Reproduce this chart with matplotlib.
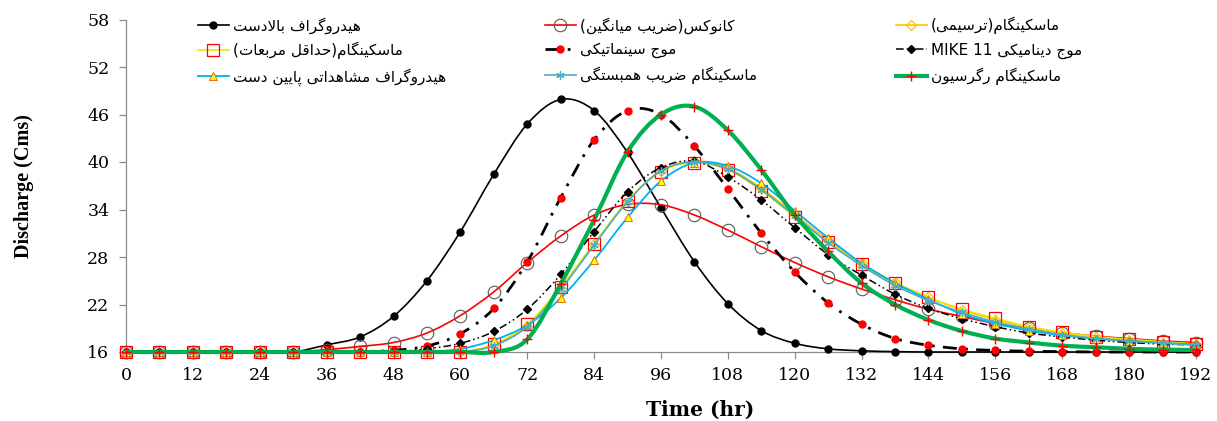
import re
import matplotlib
matplotlib.use("Agg")
import matplotlib.pyplot as plt
import numpy as np
from matplotlib.path import Path
from matplotlib.patches import PathPatch
from matplotlib.lines import Line2D

# ---- data ----
hours = [0, 6, 12, 18, 24, 30, 36, 42, 48, 54, 60, 66, 72, 78, 84, 90, 96,
         102, 108, 114, 120, 126, 132, 138, 144, 150, 156, 162, 168, 174,
         180, 186, 192]

upstream = [16, 16, 16, 16, 16, 16, 16.9, 17.9, 20.5, 25.0, 31.2, 38.45, 44.8,
            47.9, 46.5, 41.2, 34.2, 27.4, 22.1, 18.7, 17.1, 16.4, 16.15, 16.05,
            16, 16, 16, 16, 16, 16, 16, 16, 16]
cunge = [16, 16, 16, 16, 16, 16, 16.3, 16.7, 17.2, 18.4, 20.6, 23.6, 27.3,
         30.65, 33.3, 34.65, 34.6, 33.3, 31.4, 29.3, 27.3, 25.5, 23.95, 22.6,
         21.4, 20.5, 19.6, 19.0, 18.45, 18.0, 17.7, 17.4, 17.2]
musk_graphical = [16, 16, 16, 16, 16, 16, 16, 16, 16, 16, 16, 16.9, 19.3,
                  24.0, 29.6, 35.0, 38.9, 40.1, 39.2, 36.7, 33.4, 30.1, 27.2,
                  24.8, 22.9, 21.3, 20.1, 19.1, 18.4, 17.9, 17.5, 17.2, 17.0]
musk_lsq = [16, 16, 16, 16, 16, 16, 16, 16, 16, 16, 16, 17.0, 19.5, 24.2,
            29.7, 35.1, 38.8, 39.9, 39.0, 36.4, 33.1, 29.9, 27.1, 24.7, 22.9,
            21.4, 20.25, 19.2, 18.5, 17.95, 17.6, 17.3, 17.0]
kinematic = [16, 16, 16, 16, 16, 16, 16, 16.05, 16.2, 16.75, 18.3, 21.5, 27.4,
             35.5, 42.8, 46.5, 46.0, 42.0, 36.6, 31.0, 26.1, 22.2, 19.5, 17.7,
             16.85, 16.4, 16.2, 16.1, 16.05, 16, 16, 16, 16]
mike11 = [16, 16, 16, 16, 16, 16, 16, 16, 16, 16.4, 17.1, 18.6, 21.4, 25.8,
          31.2, 36.25, 39.3, 40.1, 38.1, 35.2, 31.7, 28.3, 25.7, 23.3, 21.5,
          20.2, 19.2, 18.4, 17.9, 17.5, 17.2, 17.0, 16.9]
observed = [16, 16, 16, 16, 16, 16, 16, 16, 16, 16, 16.4, 17.5, 19.4, 22.8,
            27.6, 33.0, 37.6, 39.9, 39.5, 37.3, 33.85, 30.4, 27.2, 24.7, 22.65,
            20.8, 19.6, 18.7, 18.1, 17.7, 17.4, 17.15, 16.95]
musk_corr = [16, 16, 16, 16, 16, 16, 16, 16, 16, 16, 16, 16.8, 19.2, 23.9,
             29.5, 35.0, 38.9, 40.0, 39.1, 36.5, 33.2, 29.8, 26.9, 24.4, 22.5,
             21.0, 19.8, 18.9, 18.2, 17.7, 17.4, 17.1, 16.9]
musk_regr = [16, 16, 16, 16, 16, 16, 16, 16, 16, 16, 16, 16, 17.6, 24.6, 32.7,
             41.3, 46.0, 47.0, 44.0, 39.0, 33.3, 28.7, 24.7, 22.0, 20.05, 18.65,
             17.7, 17.2, 16.8, 16.6, 16.4, 16.3, 16.25]

labels = [
    "هیدروگراف بالادست",
    "کانوکس(ضریب میانگین)",
    "ماسکینگام(ترسیمی)",
    "ماسکینگام(حداقل مربعات)",
    "موج سینماتیکی",
    "موج دینامیکی MIKE 11",
    "هیدروگراف مشاهداتی پایین دست",
    "ماسکینگام ضریب همبستگی",
    "ماسکینگام رگرسیون",
]
y_ticks = [16, 22, 28, 34, 40, 46, 52, 58]
x_ticks = [0, 12, 24, 36, 48, 60, 72, 84, 96, 108, 120, 132, 144, 156, 168, 180, 192]

# ---- minimal Persian shaping (matplotlib has no bidi / joining) ----
FORMS = {
    'ا': ('\uFE8D', '\uFE8E', None, None),
    'ب': ('\uFE8F', '\uFE90', '\uFE91', '\uFE92'),
    'پ': ('\uFB56', '\uFB57', '\uFB58', '\uFB59'),
    'ت': ('\uFE95', '\uFE96', '\uFE97', '\uFE98'),
    'ج': ('\uFE9D', '\uFE9E', '\uFE9F', '\uFEA0'),
    'ح': ('\uFEA1', '\uFEA2', '\uFEA3', '\uFEA4'),
    'د': ('\uFEA9', '\uFEAA', None, None),
    'ر': ('\uFEAD', '\uFEAE', None, None),
    'س': ('\uFEB1', '\uFEB2', '\uFEB3', '\uFEB4'),
    'ش': ('\uFEB5', '\uFEB6', '\uFEB7', '\uFEB8'),
    'ض': ('\uFEBD', '\uFEBE', '\uFEBF', '\uFEC0'),
    'ع': ('\uFEC9', '\uFECA', '\uFECB', '\uFECC'),
    'ف': ('\uFED1', '\uFED2', '\uFED3', '\uFED4'),
    'ق': ('\uFED5', '\uFED6', '\uFED7', '\uFED8'),
    'ک': ('\uFB8E', '\uFB8F', '\uFB90', '\uFB91'),
    'گ': ('\uFB92', '\uFB93', '\uFB94', '\uFB95'),
    'ل': ('\uFEDD', '\uFEDE', '\uFEDF', '\uFEE0'),
    'م': ('\uFEE1', '\uFEE2', '\uFEE3', '\uFEE4'),
    'ن': ('\uFEE5', '\uFEE6', '\uFEE7', '\uFEE8'),
    'ه': ('\uFEE9', '\uFEEA', '\uFEEB', '\uFEEC'),
    'و': ('\uFEED', '\uFEEE', None, None),
    'ی': ('\uFBFC', '\uFBFD', '\uFBFE', '\uFBFF'),
}
LTR_RUN = r'[A-Za-z0-9]+(?: [A-Za-z0-9]+)*'


def shape(s):
    out, i, n = [], 0, len(s)
    while i < n:
        c = s[i]
        if c not in FORMS:
            out.append(c)
            i += 1
            continue
        prev_join = i > 0 and s[i - 1] in FORMS and FORMS[s[i - 1]][2] is not None
        if c == 'ل' and i + 1 < n and s[i + 1] == 'ا':
            out.append('\uFEFC' if prev_join else '\uFEFB')
            i += 2
            continue
        iso, fin, ini, med = FORMS[c]
        next_join = ini is not None and i + 1 < n and s[i + 1] in FORMS
        if prev_join and next_join:
            out.append(med)
        elif prev_join:
            out.append(fin)
        elif next_join:
            out.append(ini)
        else:
            out.append(iso)
        i += 1
    return ''.join(out)


def rtl(s):
    s = s.replace('ي', 'ی').replace('ك', 'ک')
    runs = []
    for r in re.split('(' + LTR_RUN + ')', s):
        if not r:
            continue
        if re.fullmatch(LTR_RUN, r):
            runs.append(r)
        else:
            runs.append(shape(r)[::-1].translate(str.maketrans('()', ')(')))
    return ''.join(reversed(runs))


def smooth_path(x, y):
    # Excel-like smoothed line: cubic bezier through every point
    p = np.column_stack([x, y]).astype(float)
    n = len(p)
    verts, codes = [p[0]], [Path.MOVETO]
    for i in range(n - 1):
        p0 = p[i - 1] if i > 0 else p[i]
        p3 = p[i + 2] if i + 2 < n else p[i + 1]
        c1 = p[i] + (p[i + 1] - p0) / 6
        c2 = p[i + 1] - (p3 - p[i]) / 6
        verts += [c1, c2, p[i + 1]]
        codes += [Path.CURVE4] * 3
    return Path(verts, codes)


series = [
    (upstream, dict(color='black', lw=1.2, ls='-'),
     dict(marker='o', ms=5, mfc='black', mec='black')),
    (cunge, dict(color='#FF0000', lw=1.2, ls='-'),
     dict(marker='o', ms=9, mfc='none', mec='#595959', mew=0.8)),
    (musk_graphical, dict(color='#FFC000', lw=1.2, ls='-'),
     dict(marker='D', ms=5, mfc='none', mec='#FFC000', mew=0.9)),
    (musk_lsq, dict(color='#E8E800', lw=1.2, ls='-'),
     dict(marker='s', ms=8, mfc='none', mec='#FF0000', mew=0.9)),
    (kinematic, dict(color='black', lw=2.0, ls=(0, (5, 3, 1, 3))),
     dict(marker='o', ms=5, mfc='#FF0000', mec='#FF0000')),
    (mike11, dict(color='black', lw=1.1, ls=(0, (5, 2, 1, 2, 1, 2))),
     dict(marker='D', ms=4.5, mfc='black', mec='black')),
    (observed, dict(color='#00B0F0', lw=1.3, ls='-'),
     dict(marker='^', ms=5.5, mfc='#FFFF00', mec='#E46C0A', mew=0.7)),
    (musk_corr, dict(color='#4BACC6', lw=1.2, ls='-'),
     dict(marker=(6, 2, 0), ms=6, mfc='#4BACC6', mec='#4BACC6', mew=0.9)),
    (musk_regr, dict(color='#00B050', lw=3.0, ls='-'),
     dict(marker='+', ms=7, mfc='#FF0000', mec='#FF0000', mew=1.0)),
]

fig = plt.figure(figsize=(12.17, 4.21), dpi=100)
W, H = 1217, 421
ax = fig.add_axes([126 / W, (H - 352) / H, (1196 - 126) / W, (352 - 19.5) / H])

handles = []
for k, (vals, line_kw, mark_kw) in enumerate(series):
    z = 3 + k
    patch = PathPatch(smooth_path(hours, vals), fill=False, edgecolor=line_kw['color'],
                      lw=line_kw['lw'], linestyle=line_kw['ls'], zorder=z,
                      clip_on=False, capstyle='butt')
    ax.add_patch(patch)
    ax.plot(hours, vals, linestyle='none', clip_on=False, zorder=z + 0.5, **mark_kw)
    handles.append(Line2D([], [], color=line_kw['color'], lw=line_kw['lw'],
                          linestyle=line_kw['ls'], **mark_kw))

ax.set_xlim(0, 192)
ax.set_ylim(16, 58)
ax.set_xticks(x_ticks)
ax.set_yticks(y_ticks)
for s in ('top', 'right'):
    ax.spines[s].set_visible(False)
for s in ('left', 'bottom'):
    ax.spines[s].set_color('#8C8C8C')
    ax.spines[s].set_linewidth(0.9)
ax.tick_params(direction='out', length=5, color='#8C8C8C', width=0.9)
ax.tick_params(axis='y', pad=7)
ax.tick_params(axis='x', pad=6)
for lab in ax.get_xticklabels() + ax.get_yticklabels():
    lab.set_fontfamily('DejaVu Serif')
    lab.set_fontsize(12.5)

ax.set_xlabel('Time (hr)', fontfamily='DejaVu Serif', fontweight='bold',
              fontsize=14.5, labelpad=11)
ax.xaxis.label.set_x((700 - 126) / (1196 - 126))
ax.set_ylabel('Discharge (Cms)', fontfamily='Liberation Serif', fontweight='bold',
              fontsize=14.5, labelpad=38)

# legend in three columns placed like the original
col_x = [198, 545, 896]
for c in range(3):
    idx = [c, c + 3, c + 6]
    leg = ax.legend([handles[i] for i in idx], [rtl(labels[i]) for i in idx],
                    loc='upper left', bbox_to_anchor=(col_x[c] / W, 1 - 17 / H),
                    bbox_transform=fig.transFigure, frameon=False, borderpad=0,
                    borderaxespad=0, handlelength=2.0, handletextpad=0.3,
                    labelspacing=0.55, prop={'family': 'DejaVu Sans', 'size': 11})
    if c < 2:
        ax.add_artist(leg)

fig.savefig('out.png', dpi=100)
